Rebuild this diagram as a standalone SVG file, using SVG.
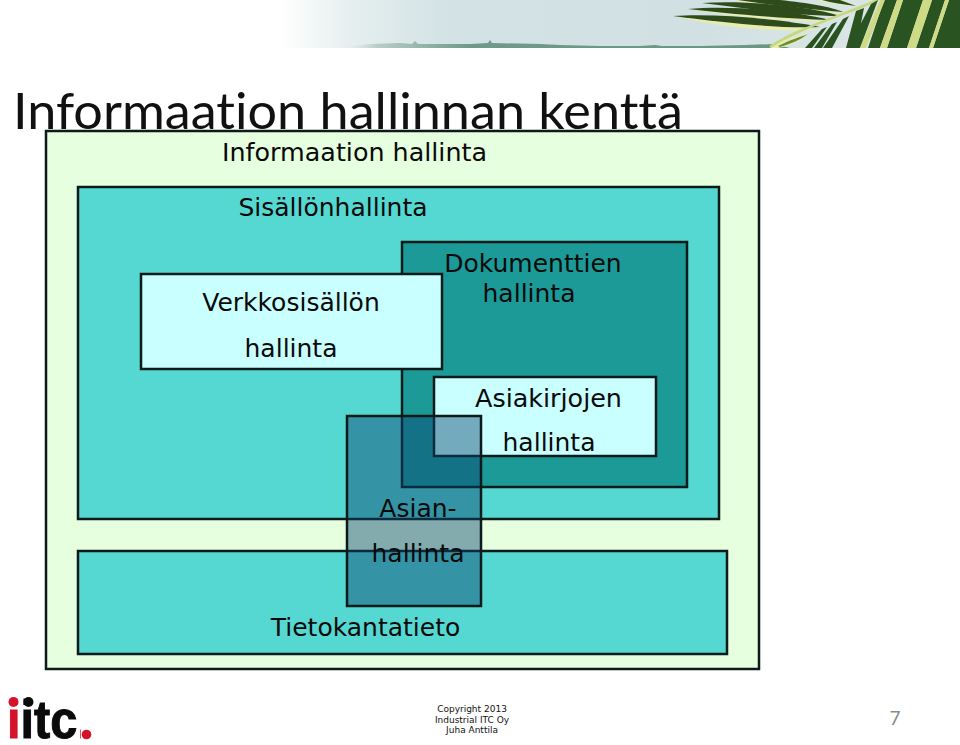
<svg xmlns="http://www.w3.org/2000/svg" width="960" height="745" viewBox="0 0 960 745">
<style>
.b{stroke:#0c1a1a;stroke-width:2.5}
.t{font-family:"DejaVu Sans",Verdana,sans-serif;font-size:25px;fill:#0a0a0a;text-anchor:middle}
.c{font-family:"DejaVu Sans",Verdana,sans-serif;font-size:9px;fill:#111;text-anchor:middle}
</style>
<defs>
<linearGradient id="sky" x1="0" x2="1" y1="0" y2="0">
<stop offset="0" stop-color="#fff"/><stop offset=".1" stop-color="#e6efef"/><stop offset=".25" stop-color="#d2e2e5"/><stop offset=".6" stop-color="#d0e0e3"/><stop offset="1" stop-color="#dfe9e6"/>
</linearGradient>
<linearGradient id="fade" x1="0" x2="1" y1="0" y2="0">
<stop offset="0" stop-color="#fff" stop-opacity="0"/><stop offset=".1" stop-color="#b9cfc8"/><stop offset=".3" stop-color="#6f9a8a"/><stop offset="1" stop-color="#6b9680"/>
</linearGradient>
<filter id="soft" x="-5%" y="-20%" width="110%" height="140%"><feGaussianBlur stdDeviation=".6"/></filter>
</defs>
<g id="banner">
<rect x="280" y="0" width="680" height="48" fill="url(#sky)"/>
<path d="M330 48L370 44L400 43L412 44L415 41L418 44L470 44L488 43L490 40L492 43L540 44L560 45L600 46L640 46L655 45L662 46L700 46L745 45L775 44L790 48Z" fill="url(#fade)"/>
<g filter="url(#soft)">
<g fill="#e7edae">
<path d="M770 48C782 40 795 36 808 33C802 41 790 46 778 48Z"/>
<path d="M673 16C720 20 775 25 820 30C770 33 715 26 673 16Z"/>
<path d="M688 9C730 10 790 14 830 22C780 21 730 16 688 9Z"/>
<path d="M735 0H760C795 4 828 9 845 14C800 11 765 6 735 0Z"/>
<path d="M815 0H842L856 6C840 5 828 3 815 0Z"/>
</g>
<g fill="#2f4c1c">
<path d="M673 16C720 13 785 20 820 27C780 29 720 22 673 16Z"/>
<path d="M688 9C730 5 795 11 830 20C790 19 730 14 688 9Z"/>
<path d="M702 3C750 0 815 7 840 16C800 16 750 9 702 3Z"/>
<path d="M738 0H780C808 3 832 7 843 12C810 9 770 5 738 0Z"/>
<path d="M822 0H840L856 6C843 4 832 3 822 0Z"/>
<path d="M778 46C790 40 800 37 808 34C800 40 790 44 780 47Z" fill="#6d8a35"/>
</g>
<path d="M770 47C795 30 835 18 878 0" fill="none" stroke="#c8d67c" stroke-width="2.500"/>
<g fill="#2a5220">
<path d="M822 29L805 48H812L827 27Z"/><path d="M832 24L814 48H822L837 22Z"/><path d="M843 19L823 48H832L849 16Z"/><path d="M856 11L846 48H856L864 8Z"/><path d="M871 4L848 48H860L878 0Z"/>
<path d="M884 0L868 48H880L897 0Z"/><path d="M903 0L887 48H907L923 0Z"/><path d="M932 0L916 48H929L945 0Z"/><path d="M949 0L933 48H960V0Z"/>
</g>
<g fill="#cfdb84">
<path d="M880 0L860 48H866L885 0Z"/><path d="M897 0L880 48H887L903 0Z"/><path d="M923 0L907 48H916L932 0Z"/><path d="M945 0L929 48H933L949 0Z"/>
</g>
</g>
</g>
<text id="title" x="13" y="129" font-family="Lato,'Open Sans',sans-serif" font-size="51px" fill="#111" style="font-variant-ligatures:none" textLength="670" lengthAdjust="spacingAndGlyphs">Informaation hallinnan kenttä</text>
<g id="informaation"><rect class="b" x="46" y="131" width="713" height="538" fill="#e5ffdf"/><text class="t" x="354.500" y="161" textLength="265" lengthAdjust="spacingAndGlyphs">Informaation hallinta</text></g>
<g id="sisallon"><rect class="b" x="78" y="187" width="641" height="332" fill="#56d8d2"/><text class="t" x="333" y="216">Sisällönhallinta</text></g>
<g id="tietokanta"><rect class="b" x="78" y="551" width="649" height="103" fill="#56d8d2"/><text class="t" x="365.500" y="636">Tietokantatieto</text></g>
<g id="dokumentit"><rect class="b" x="402" y="242" width="285" height="245" fill="#1b9a98"/><text class="t" x="533" y="272">Dokumenttien</text><text class="t" x="529" y="302">hallinta</text></g>
<g id="verkko"><rect class="b" x="141" y="274" width="301" height="95" fill="#c9ffff"/><text class="t" x="291" y="311">Verkkosisällön</text><text class="t" x="291" y="357">hallinta</text></g>
<g id="asiakirjat"><rect class="b" x="434" y="377" width="222" height="79" fill="#c9ffff"/><text class="t" x="548.500" y="407" textLength="147" lengthAdjust="spacingAndGlyphs">Asiakirjojen</text><text class="t" x="549" y="451">hallinta</text></g>
<g id="asia"><rect x="347" y="416" width="134" height="190" fill="#0a436e" fill-opacity=".45" stroke="#0c1a1a" stroke-width="2.500"/><text class="t" x="418" y="517">Asian-</text><text class="t" x="418" y="562">hallinta</text></g>
<g id="logo"><text x="7" y="738" font-family="'Liberation Sans',Arial,sans-serif" font-weight="700" font-size="53px" fill="#0b0b0b" stroke="#0b0b0b" stroke-width="1" textLength="84" lengthAdjust="spacingAndGlyphs"><tspan fill="#d5122a" stroke="#d5122a">i</tspan>itc<tspan fill="#d5122a" stroke="#d5122a">.</tspan></text><circle cx="13.500" cy="702" r="5" fill="#d5122a"/><circle cx="28.500" cy="702" r="5" fill="#0b0b0b"/><rect x="81" y="724" width="12" height="16" fill="#fff"/><circle cx="86.500" cy="734.500" r="4.800" fill="#d5122a"/></g>
<g id="copyright"><text class="c" x="472" y="712">Copyright 2013</text><text class="c" x="472" y="723">Industrial ITC Oy</text><text class="c" x="472" y="733">Juha Anttila</text></g>
<text id="page" x="895" y="725" font-family="Lato,'Open Sans',sans-serif" font-size="19px" fill="#8a8a8a" text-anchor="middle">7</text>
</svg>
